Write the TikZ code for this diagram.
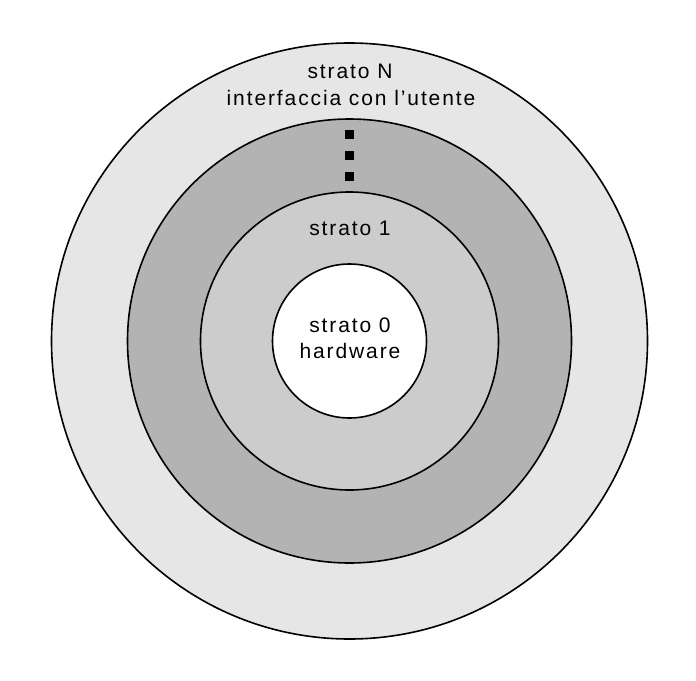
\documentclass[tikz,border=0pt]{standalone}
\usepackage{fontspec}
\newfontfamily\stratofont{Liberation Sans}[LetterSpace=9]
\definecolor{ringN}{HTML}{E6E6E6}
\definecolor{ringmid}{HTML}{B3B3B3}
\definecolor{ringone}{HTML}{CCCCCC}
\tikzset{
  ring/.style={draw=black, line width=1.6pt},
  label text/.style={anchor=base, inner sep=0pt, font=\stratofont\fontsize{21}{26}\selectfont}
}
\begin{document}
\begin{tikzpicture}[x=1pt,y=-1pt]
    \useasboundingbox (0,0) rectangle (696,680);
    \coordinate (c) at (349.5,341);
    \draw[ring, fill=ringN] (c) circle (298);
    \draw[ring, fill=ringmid] (c) circle (222);
    \draw[ring, fill=ringone] (c) circle (149);
    \draw[ring, fill=white] (c) circle (77);
    \node[label text] (stratoN) at (350,78) {strato N};
    \node[label text] (utente) at (351,105) {interfaccia con l’utente};
    \foreach \y in {134,155,176}
    \fill (344.5,\y-4.5) rectangle ++(9,9);
    \node[label text] (strato1) at (350,235) {strato 1};
    \node[label text] (strato0) at (350,332) {strato 0};
    \node[label text] (hardware) at (350,358) {hardware};
  \end{tikzpicture}
\end{document}
